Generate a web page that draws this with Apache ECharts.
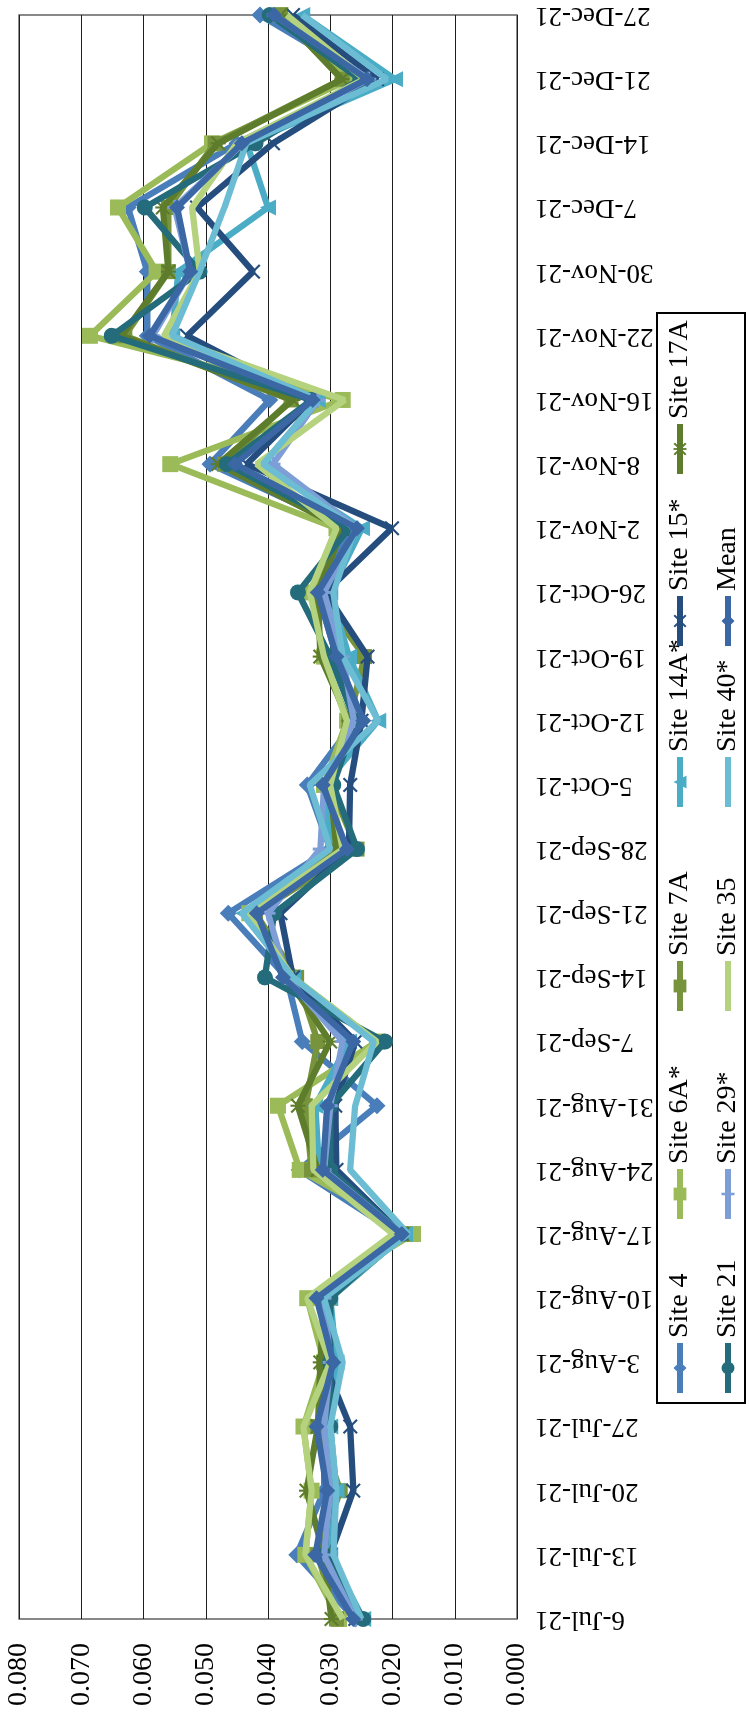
<!DOCTYPE html>
<html>
<head>
<meta charset="utf-8">
<script src="https://cdn.jsdelivr.net/npm/echarts@6/dist/echarts.min.js"></script>
<style>
  html, body { margin: 0; padding: 0; width: 749px; height: 1722px; overflow: hidden; background: #fff; }
  /* The chart is laid out landscape and turned a quarter turn counter-clockwise to fit the portrait page */
  #chart { position: absolute; left: 0; top: 0; width: 1722px; height: 749px;
           transform-origin: 0 0; transform: translateY(1722px) rotate(-90deg); }
</style>
</head>
<body>
<div id="chart"></div>
<script>
// Sampling dates
const dates = ['6-Jul-21','13-Jul-21','20-Jul-21','27-Jul-21','3-Aug-21','10-Aug-21','17-Aug-21',
  '24-Aug-21','31-Aug-21','7-Sep-21','14-Sep-21','21-Sep-21','28-Sep-21','5-Oct-21','12-Oct-21',
  '19-Oct-21','26-Oct-21','2-Nov-21','8-Nov-21','16-Nov-21','22-Nov-21','30-Nov-21','7-Dec-21',
  '14-Dec-21','21-Dec-21','27-Dec-21'];

// Value axis ticks
const valueTicks = [0, 0.01, 0.02, 0.03, 0.04, 0.05, 0.06, 0.07, 0.08];

// Measured values per site
const site4   = [0.026,0.0354,0.031,0.031,0.030,0.031,0.019,0.035,0.0225,0.0345,0.037,0.0464,0.030,0.0337,0.026,0.029,0.032,0.027,0.0493,0.0397,0.0594,0.0594,0.0625,0.045,0.024,0.0413];
const site6A  = [0.0286,0.034,0.033,0.0343,0.031,0.0337,0.0167,0.0349,0.0384,0.0225,0.036,0.043,0.029,0.031,0.0273,0.031,0.033,0.029,0.0557,0.028,0.0686,0.0579,0.0641,0.049,0.0268,0.038];
const site7A  = [0.029,0.032,0.0284,0.032,0.031,0.030,0.018,0.033,0.034,0.032,0.0354,0.042,0.0257,0.030,0.027,0.0245,0.032,0.028,0.047,0.0363,0.063,0.056,0.056,0.0485,0.0281,0.038];
const site14A = [0.0247,0.030,0.029,0.030,0.029,0.030,0.018,0.0318,0.0324,0.027,0.036,0.044,0.030,0.031,0.0223,0.027,0.030,0.0249,0.0408,0.032,0.0554,0.0544,0.040,0.0434,0.0196,0.0345];
const site15  = [0.026,0.030,0.0263,0.0268,0.031,0.031,0.0185,0.029,0.0292,0.026,0.036,0.038,0.027,0.0268,0.025,0.024,0.0308,0.0201,0.0434,0.033,0.053,0.0424,0.0514,0.0392,0.0225,0.036];
const site17A = [0.0298,0.031,0.0338,0.032,0.0316,0.031,0.0185,0.032,0.0352,0.030,0.037,0.042,0.029,0.030,0.027,0.0316,0.032,0.028,0.048,0.036,0.0635,0.056,0.0569,0.048,0.0281,0.038];
const site21  = [0.0247,0.031,0.030,0.030,0.030,0.030,0.0185,0.030,0.030,0.0212,0.0405,0.039,0.0257,0.0295,0.026,0.030,0.0352,0.027,0.0466,0.033,0.0651,0.051,0.0598,0.042,0.0252,0.0397];
const site29  = [0.026,0.031,0.030,0.031,0.030,0.031,0.0185,0.031,0.030,0.028,0.037,0.040,0.0316,0.031,0.0262,0.028,0.031,0.0257,0.0392,0.032,0.0585,0.0525,0.055,0.044,0.0238,0.039];
const site35  = [0.028,0.034,0.033,0.0343,0.030,0.0337,0.0199,0.0327,0.033,0.0225,0.036,0.043,0.028,0.030,0.0273,0.031,0.0333,0.029,0.0418,0.0277,0.0567,0.051,0.0522,0.045,0.0245,0.037];
const site40  = [0.025,0.0295,0.029,0.030,0.028,0.031,0.0175,0.0268,0.026,0.023,0.036,0.0442,0.030,0.0333,0.0223,0.028,0.0295,0.026,0.0408,0.032,0.0554,0.051,0.047,0.0435,0.0209,0.0345];
const mean    = [0.0263,0.0324,0.0305,0.0322,0.0295,0.0322,0.0185,0.0312,0.0305,0.0263,0.0376,0.0418,0.0273,0.0312,0.0247,0.029,0.032,0.0257,0.0453,0.0328,0.059,0.0525,0.0546,0.0442,0.0241,0.039];

const seriesNames = ['Site 4','Site 6A*','Site 7A','Site 14A*','Site 15*','Site 17A',
                     'Site 21','Site 29*','Site 35','Site 40*','Mean'];
const seriesValues = [site4, site6A, site7A, site14A, site15, site17A, site21, site29, site35, site40, mean];

// Marker shapes
const X_MARK = 'path://M0,1L1,0L5,4L9,0L10,1L6,5L10,9L9,10L5,6L1,10L0,9L4,5Z';
const STAR_MARK = 'path://M0,1L1,0L5,4L9,0L10,1L6,5L10,9L9,10L5,6L1,10L0,9L4,5ZM4.3,0H5.7V10H4.3Z';
const PLUS_MARK = 'path://M4,0H6V4H10V6H6V10H4V6H0V4H4Z';

// Line colour, marker and marker size per series
const seriesLook = [
  { color: '#4a7ebb', symbol: 'diamond', size: 17 },
  { color: '#9bbb59', symbol: 'rect', size: 16 },
  { color: '#77933c', symbol: 'rect', size: 15 },
  { color: '#4bacc6', symbol: 'triangle', size: 16 },
  { color: '#254e7f', symbol: X_MARK, size: 15 },
  { color: '#5e7d2c', symbol: STAR_MARK, size: 15 },
  { color: '#246c7c', symbol: 'circle', size: 16 },
  { color: '#7d9ed6', symbol: PLUS_MARK, size: 15 },
  { color: '#b5d27e', symbol: 'none', size: 0 },
  { color: '#6cbdd3', symbol: 'none', size: 0 },
  { color: '#3b67a5', symbol: 'diamond', size: 16 }
];

// Legend grid: columns of entries and their left offsets
const legendColumns = [['Site 4','Site 21'],['Site 6A*','Site 29*'],['Site 7A','Site 35'],
                       ['Site 14A*','Site 40*'],['Site 15*','Mean'],['Site 17A']];
const legendColumnLeft = [326, 500, 708, 912, 1073, 1245];

const SERIF = '"Liberation Serif", "DejaVu Serif", serif';

const chart = echarts.init(document.getElementById('chart'), null, { renderer: 'canvas' });

const series = seriesNames.map((name, i) => ({
  name: name,
  type: 'line',
  data: seriesValues[i],
  symbol: seriesLook[i].symbol,
  symbolSize: seriesLook[i].size,
  showSymbol: seriesLook[i].symbol !== 'none',
  lineStyle: { color: seriesLook[i].color, width: 6.3 },
  itemStyle: { color: seriesLook[i].color },
  emphasis: { disabled: true },
  animation: false,
  z: 3 + i
}));

// Plain-line series get a legend entry without a marker
const legendEntry = name => {
  const i = seriesNames.indexOf(name);
  return seriesLook[i].symbol === 'none'
    ? { name: name, itemStyle: { opacity: 0 } }
    : { name: name };
};

const legends = legendColumns.map((items, c) => ({
  orient: 'vertical',
  left: legendColumnLeft[c],
  top: 665,
  padding: 0,
  itemGap: 18,
  itemWidth: 50,
  itemHeight: 16,
  selectedMode: false,
  lineStyle: { width: 6 },
  data: items.map(legendEntry),
  textStyle: { fontFamily: SERIF, fontSize: 28, color: '#000', lineHeight: 30 }
}));

chart.setOption({
  backgroundColor: '#fff',
  animation: false,
  grid: { left: 103, right: 15, top: 19, bottom: 232, show: true,
          borderColor: '#6b6b6b', borderWidth: 1.6, backgroundColor: 'transparent' },
  xAxis: {
    type: 'category',
    data: dates,
    boundaryGap: false,
    axisLine: { show: false },
    axisTick: { show: false },
    axisLabel: { rotate: 90, margin: 18, interval: 0, fontFamily: SERIF, fontSize: 27, color: '#000' },
    splitLine: { show: false }
  },
  yAxis: {
    type: 'value',
    min: valueTicks[0],
    max: valueTicks[valueTicks.length - 1],
    interval: valueTicks[1] - valueTicks[0],
    axisLine: { show: false },
    axisTick: { show: false },
    axisLabel: { margin: 24, fontFamily: SERIF, fontSize: 28, color: '#000',
                 formatter: v => v.toFixed(3) },
    splitLine: { show: true, lineStyle: { color: '#1e1e1e', width: 1.2 } }
  },
  legend: legends,
  graphic: [{
    type: 'rect',
    shape: { x: 319, y: 657, width: 1090, height: 88 },
    style: { fill: 'none', stroke: '#000', lineWidth: 2 },
    z: 1
  }],
  series: series
});
</script>
</body>
</html>
